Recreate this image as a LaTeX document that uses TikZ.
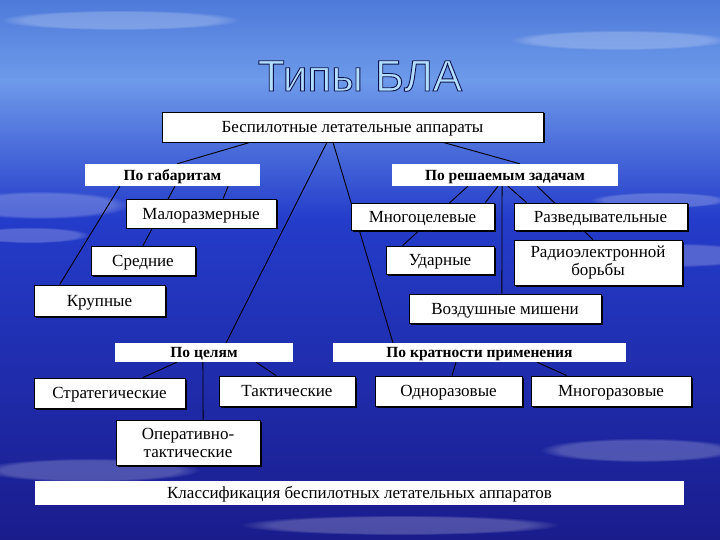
\documentclass[tikz,border=0pt]{standalone}
\usepackage{fontspec}
\setmainfont{Liberation Serif}
\newfontfamily\titlefont{Liberation Sans}
\usetikzlibrary{calc,shadows,fadings}
\pgfdeclarelayer{back}
\pgfdeclarelayer{lines}
\pgfsetlayers{back,lines,main}
\definecolor{bgA}{RGB}{78,122,218}
\definecolor{bgB}{RGB}{110,154,234}
\definecolor{bgC}{RGB}{36,60,202}
\definecolor{bgD}{RGB}{26,28,140}
\definecolor{titleblue}{RGB}{178,222,255}
\newcommand\lnk[4]{\draw[conn] ($(#1.south west)!#2!(#1.south east)$) -- ($(#3.north west)!#4!(#3.north east)$);}
\begin{document}
\begin{tikzpicture}[x=1pt,y=-1pt,
  boxbase/.style={draw=black, fill=white, line width=0.9pt, inner sep=0pt,
    drop shadow={shadow xshift=1.5pt,shadow yshift=-1.5pt,fill=black,opacity=1},
    font=\fontsize{17}{19}\selectfont},
  box/.style={boxbase, text height=11.3pt, text depth=0pt},
  box2/.style={boxbase, align=center, font=\fontsize{17}{18}\selectfont},
  hdr/.style={fill=white, inner sep=0pt, text height=10.3pt, text depth=0pt, font=\bfseries\fontsize{15.5}{17}\selectfont},
  conn/.style={draw=black, line width=0.9pt},
  cloud/.style={fill=white, opacity=0.22, path fading=circle with fuzzy edge 20 percent}]
\useasboundingbox (0,0) rectangle (720,540);
\begin{pgfonlayer}{back}
\begin{scope}
\clip (0,0) rectangle (720,540);
\shade[top color=bgA, bottom color=bgB] (0,0) rectangle (720,80);
\shade[top color=bgB, bottom color=bgC] (0,80) rectangle (720,220);
\shade[top color=bgC, bottom color=bgD] (0,220) rectangle (720,540);
\fill[cloud] (40,205) ellipse (90 and 14);
\fill[cloud] (30,235) ellipse (60 and 8);
\fill[cloud] (680,255) ellipse (80 and 12);
\fill[cloud] (660,200) ellipse (70 and 8);
\fill[cloud] (120,20) ellipse (120 and 10);
\fill[cloud] (620,40) ellipse (110 and 10);
\fill[cloud] (90,470) ellipse (110 and 12);
\fill[cloud] (640,450) ellipse (100 and 12);
\fill[cloud] (400,525) ellipse (160 and 10);
\end{scope}
\end{pgfonlayer}

\node[font=\titlefont\fontsize{44}{48}\selectfont, text=titleblue, anchor=base] (title) at (360,91) {\special{pdf:literal direct 2 Tr 0.9 w 0.05 0.08 0.3 RG}Типы БЛА\special{pdf:literal direct 0 Tr}};

\node[box, minimum width=381pt, minimum height=30pt] (top) at (352.5,127) {Беспилотные летательные аппараты};
\node[hdr, minimum width=175pt, minimum height=22pt] (gab) at (172.5,175) {По габаритам};
\node[hdr, minimum width=226pt, minimum height=22pt] (zad) at (505,175) {По решаемым задачам};
\node[box, minimum width=150pt, minimum height=29pt] (malo) at (201,213.5) {Малоразмерные};
\node[box, minimum width=143pt, minimum height=27pt] (mnogoc) at (422.5,216.5) {Многоцелевые};
\node[box, minimum width=173pt, minimum height=27pt] (razv) at (600.5,216.5) {Разведывательные};
\node[box, minimum width=104pt, minimum height=29pt] (sred) at (143,260.5) {Средние};
\node[box, minimum width=108pt, minimum height=28pt] (udar) at (440,260) {Ударные};
\node[box2, minimum width=168pt, minimum height=45pt] (reb) at (598,262.5) {Радиоэлектронной\\борьбы};
\node[box, minimum width=131pt, minimum height=31pt] (krup) at (99.5,300.5) {Крупные};
\node[box, minimum width=192pt, minimum height=29pt] (mish) at (505,308.5) {Воздушные мишени};
\node[hdr, minimum width=178pt, minimum height=19pt] (celi) at (204,352.5) {По целям};
\node[hdr, minimum width=293pt, minimum height=19pt] (krat) at (479.5,352.5) {По кратности применения};
\node[box, minimum width=151pt, minimum height=30pt] (strat) at (109.5,393) {Стратегические};
\node[box, minimum width=136pt, minimum height=30pt] (takt) at (287,391) {Тактические};
\node[box, minimum width=147pt, minimum height=30pt] (odno) at (448.5,391) {Одноразовые};
\node[box, minimum width=160pt, minimum height=30pt] (mnogor) at (611,391) {Многоразовые};
\node[box2, minimum width=144pt, minimum height=45pt] (oper) at (188,442.5) {Оперативно-\\тактические};
\node[fill=white, inner sep=0pt, minimum width=649pt, minimum height=24pt, text height=11.3pt, text depth=0pt, font=\fontsize{17}{19}\selectfont] (klass) at (359.5,493) {Классификация беспилотных летательных аппаратов};

\begin{pgfonlayer}{lines}
\lnk{top}{0.231}{gab}{0.526}
\lnk{gab}{0.2}{krup}{0.198}
\lnk{gab}{0.514}{sred}{0.5}
\lnk{gab}{0.817}{malo}{0.647}
\lnk{top}{0.433}{celi}{0.624}
\lnk{top}{0.449}{krat}{0.205}
\lnk{top}{0.738}{zad}{0.566}
\lnk{zad}{0.336}{udar}{0.157}
\lnk{zad}{0.469}{mnogoc}{0.937}
\lnk{zad}{0.487}{mish}{0.484}
\lnk{zad}{0.513}{razv}{0.075}
\lnk{zad}{0.642}{reb}{0.47}
\lnk{celi}{0.348}{strat}{0.72}
\lnk{celi}{0.494}{oper}{0.604}
\lnk{celi}{0.792}{takt}{0.42}
\lnk{krat}{0.42}{odno}{0.524}
\lnk{krat}{0.696}{mnogor}{0.225}
\end{pgfonlayer}
\end{tikzpicture}
\end{document}
